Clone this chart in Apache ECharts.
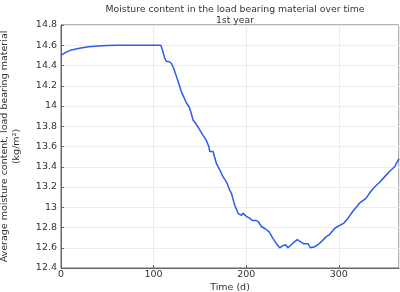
<!DOCTYPE html>
<html><head><meta charset="utf-8">
<script src="https://cdn.jsdelivr.net/npm/echarts@6/dist/echarts.min.js"></script>
<style>html,body{margin:0;padding:0;background:#fff}#c{width:400px;height:292px}</style>
</head><body><div id="c"></div>
<script>
const days = [0,5,10,20,30,40,50,60,80,107.8,109.6,112,114,116.8,119.3,121.8,124.7,127.2,130,133,135.5,138.4,140.2,142.7,
  144.5,148.8,153.4,157,159.6,160.7,164.2,167.9,171.4,175,178.7,182.2,
  184,187.6,191.2,194.8,196.6,200.2,203.8,206.7,210.3,212.8,216.4,220,224.6,229,232.6,236.2,239.7,242.6,245.1,248.7,252.3,255.2,258.4,262,266.7,269.2,273.9,277.5,281.1,286.5,290,
  295.4,300.8,305,309.8,315.2,322.4,329.6,333.2,338.6,343.3,349.4,355.5,360.2,365];
const moisture = [14.50,14.53,14.55,14.57,14.585,14.593,14.597,14.6,14.6,14.6,14.55,14.47,14.44,14.44,14.42,14.37,14.29,14.22,14.14,14.08,14.03,13.99,13.94,13.86,
  13.84,13.78,13.71,13.66,13.60,13.55,13.55,13.43,13.37,13.30,13.25,13.17,
  13.14,13.02,12.94,12.92,12.94,12.91,12.89,12.87,12.87,12.86,12.81,12.79,12.76,12.69,12.64,12.60,12.62,12.63,12.60,12.63,12.66,12.68,12.66,12.64,12.64,12.60,12.61,12.63,12.66,12.71,12.73,
  12.79,12.82,12.84,12.89,12.96,13.04,13.09,13.14,13.20,13.24,13.30,13.36,13.40,13.48];
const titleLines = ['Moisture content in the load bearing material over time','1st year'];
const xName = 'Time (d)';
const yName = 'Average moisture content, load bearing material\n(kg/m²)';

const font = 'DejaVu Sans';
const chart = echarts.init(document.getElementById('c'));
chart.setOption({
  animation:false,
  title:{text:titleLines.join('\n'),left:230,top:-1,textAlign:'center',
    textStyle:{fontFamily:font,fontSize:9.3,fontWeight:'normal',color:'#333',lineHeight:11}},
  grid:{left:61,right:1,top:25,bottom:24,show:true,borderColor:'#666',borderWidth:1,outerBoundsMode:'none',containLabel:false},
  xAxis:{type:'value',min:0,max:365,interval:100,name:xName,nameLocation:'middle',nameGap:14.5,nameMoveOverlap:false,
    nameTextStyle:{fontFamily:font,fontSize:9.5,color:'#333'},
    axisLine:{lineStyle:{color:'#666'}},axisTick:{inside:true,length:3,lineStyle:{color:'#666'}},
    axisLabel:{fontFamily:font,fontSize:9.5,color:'#333',margin:2,showMaxLabel:false},
    splitLine:{lineStyle:{color:'#ececec'}}},
  yAxis:{type:'value',min:12.4,max:14.8,interval:0.2,name:yName,nameLocation:'middle',nameGap:38,nameMoveOverlap:false,
    nameTextStyle:{fontFamily:font,fontSize:9.5,color:'#333',lineHeight:12},
    axisLine:{lineStyle:{color:'#666'}},axisTick:{inside:true,length:3,lineStyle:{color:'#666'}},
    axisLabel:{fontFamily:font,fontSize:9.5,color:'#333',margin:4},
    splitLine:{lineStyle:{color:'#ececec'}}},
  series:[{type:'line',data:days.map((d,i)=>[d,moisture[i]]),showSymbol:false,
    lineStyle:{color:'#2f5bea',width:1.5},itemStyle:{color:'#2f5bea'}}]
});
</script></body></html>
